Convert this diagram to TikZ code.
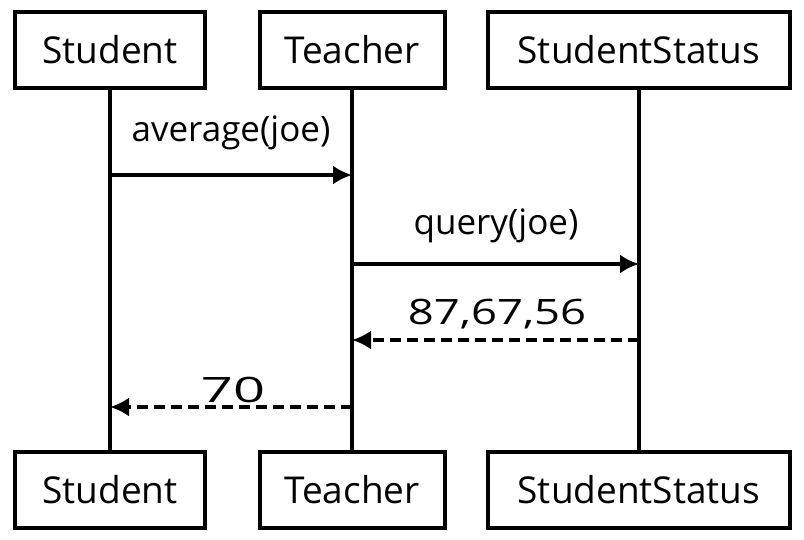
\documentclass[tikz,border=0pt]{standalone}
\usepackage{fontspec}
\usepackage{graphicx}
\setmainfont{Open Sans}
\usetikzlibrary{arrows.meta}
\tikzset{
  actor/.style={draw, line width=4pt, minimum height=76pt, inner sep=0pt, font=\fontsize{37}{40}\selectfont},
  lifeline/.style={line width=3.4pt},
  msg/.style={line width=3.4pt, -{Latex[length=19pt,width=19pt]}},
  reply/.style={msg, dash pattern=on 11pt off 6pt},
  msglabel/.style={font=\fontsize{35}{38}\selectfont, inner sep=0pt}
}
\begin{document}
\begin{tikzpicture}[x=1pt,y=-1pt]
\useasboundingbox[fill=white] (0,0) rectangle (804,539);
% top actors
\node[actor, minimum width=190pt] (sT) at (110,50) {Student};
\node[actor, minimum width=185pt] (tT) at (352,50) {Teacher};
\node[actor, minimum width=302pt] (ssT) at (639,50) {StudentStatus};
% bottom actors
\node[actor, minimum width=190pt] (sB) at (110,490) {Student};
\node[actor, minimum width=185pt] (tB) at (352,490) {Teacher};
\node[actor, minimum width=302pt] (ssB) at (639,490) {StudentStatus};
% lifelines
\draw[lifeline] (sT.south) -- (sB.north);
\draw[lifeline] (tT.south) -- (tB.north);
\draw[lifeline] (ssT.south) -- (ssB.north);
% message anchor points
\coordinate (m1a) at (110,175);
\coordinate (m1b) at (352,175);
\coordinate (m2a) at (352,264);
\coordinate (m2b) at (639,264);
\coordinate (m3a) at (639,340);
\coordinate (m3b) at (352,340);
\coordinate (m4a) at (352,407);
\coordinate (m4b) at (110,407);
% messages
\draw[msg] (m1a) -- (m1b);
\node[msglabel] (l1) at (231,133) {average(joe)};
\draw[msg] (m2a) -- (m2b);
\node[msglabel] (l2) at (496,226) {query(joe)};
\draw[reply] (m3a) -- (m3b);
\node[msglabel] (l3) at (497,314) {\scalebox{1.3}[1]{87,67,56}};
\draw[reply] (m4a) -- (m4b);
\node[msglabel] (l4) at (233,390) {\scalebox{1.6}[1]{70}};
\end{tikzpicture}
\end{document}
